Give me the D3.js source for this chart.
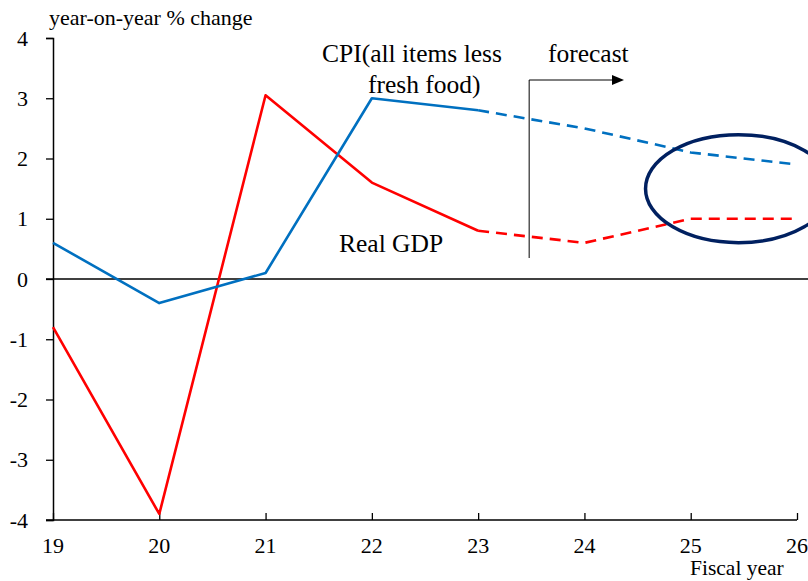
<!DOCTYPE html>
<html>
<head>
<meta charset="utf-8">
<script src="https://cdn.jsdelivr.net/npm/d3@7"></script>
<style>
  body { margin: 0; background: #fff; }
  text { font-family: "Liberation Serif", "Times New Roman", serif; fill: #000; }
</style>
</head>
<body>
<div id="chart"></div>
<script>
var years = [19, 20, 21, 22, 23, 24, 25, 26];
var gdp = [-0.8, -3.9, 3.05, 1.6, 0.8, 0.6, 1.0, 1.0];
var cpi = [0.6, -0.4, 0.1, 3.0, 2.8, 2.5, 2.1, 1.9];
var yTicks = [4, 3, 2, 1, 0, -1, -2, -3, -4];
var forecastFrom = 23;

var width = 808, height = 581;

var svg = d3.select("#chart").append("svg")
  .attr("width", width)
  .attr("height", height);

var x = d3.scaleLinear().domain([19, 26]).range([53, 797]);
var y = d3.scaleLinear().domain([-4, 4]).range([520, 38]);

// y axis
var yAxis = svg.append("g")
  .attr("transform", "translate(" + x(19) + ",0)")
  .call(d3.axisLeft(y).tickValues(yTicks).tickSize(7).tickPadding(18)
    .tickFormat(function(d) { return String(d); }));
yAxis.select(".domain").attr("stroke", "#000").attr("stroke-width", 1.5);
yAxis.selectAll(".tick line").attr("stroke", "#000").attr("stroke-width", 1.3);
yAxis.selectAll("text").style("font-size", "22px").style("font-family", "Liberation Serif");

// x axis at bottom, ticks pointing up
var xAxis = svg.append("g")
  .attr("transform", "translate(0," + y(-4) + ")")
  .call(d3.axisTop(x).tickValues(years).tickSize(7).tickSizeOuter(0).tickFormat(""));
xAxis.select(".domain").attr("stroke", "#000").attr("stroke-width", 1.3)
  .attr("d", "M" + (x(19) - 7) + ",0H" + x(26));
xAxis.selectAll(".tick line").attr("stroke", "#000").attr("stroke-width", 1.3);

svg.append("g").selectAll("text")
  .data(years)
  .enter().append("text")
  .attr("x", function(d) { return x(d); })
  .attr("y", 553)
  .attr("text-anchor", "middle")
  .style("font-size", "22px")
  .text(function(d) { return d; });

// zero line
svg.append("line")
  .attr("x1", x(19) - 7).attr("x2", width)
  .attr("y1", y(0)).attr("y2", y(0))
  .attr("stroke", "#000").attr("stroke-width", 1.3);

var line = d3.line()
  .x(function(d) { return x(d[0]); })
  .y(function(d) { return y(d[1]); });

function drawSeries(vals, color) {
  var pts = years.map(function(yr, i) { return [yr, vals[i]]; });
  var actual = pts.filter(function(d) { return d[0] <= forecastFrom; });
  var fc = pts.filter(function(d) { return d[0] >= forecastFrom; });
  svg.append("path").datum(actual)
    .attr("d", line).attr("fill", "none")
    .attr("stroke", color).attr("stroke-width", 2.6)
    .attr("stroke-linejoin", "round");
  svg.append("path").datum(fc)
    .attr("d", line).attr("fill", "none")
    .attr("stroke", color).attr("stroke-width", 2.6)
    .attr("stroke-dasharray", "11,7");
}
drawSeries(gdp, "#ff0000");
drawSeries(cpi, "#0070c0");

// highlight ellipse
svg.append("ellipse")
  .attr("cx", x(25.45)).attr("cy", y(1.5))
  .attr("rx", 93).attr("ry", 54)
  .attr("fill", "none").attr("stroke", "#002060").attr("stroke-width", 3.5);

// forecast marker
var fx = x(23.48);
svg.append("path")
  .attr("d", "M" + fx + ",258V80H" + 612)
  .attr("fill", "none").attr("stroke", "#000").attr("stroke-width", 1);
svg.append("path")
  .attr("d", "M624,80L612,75L612,85Z")
  .attr("fill", "#000");

svg.append("text").attr("x", 548).attr("y", 62).style("font-size", "25.5px").text("forecast");
svg.append("text").attr("x", 322).attr("y", 62).style("font-size", "25.5px").text("CPI(all items less");
svg.append("text").attr("x", 368).attr("y", 93).style("font-size", "25.5px").text("fresh food)");
svg.append("text").attr("x", 339).attr("y", 252).style("font-size", "25.5px").text("Real GDP");

svg.append("text").attr("x", 49).attr("y", 25).style("font-size", "22px").text("year-on-year % change");
svg.append("text").attr("x", 690).attr("y", 575).style("font-size", "21.5px").text("Fiscal year");
</script>
</body>
</html>
